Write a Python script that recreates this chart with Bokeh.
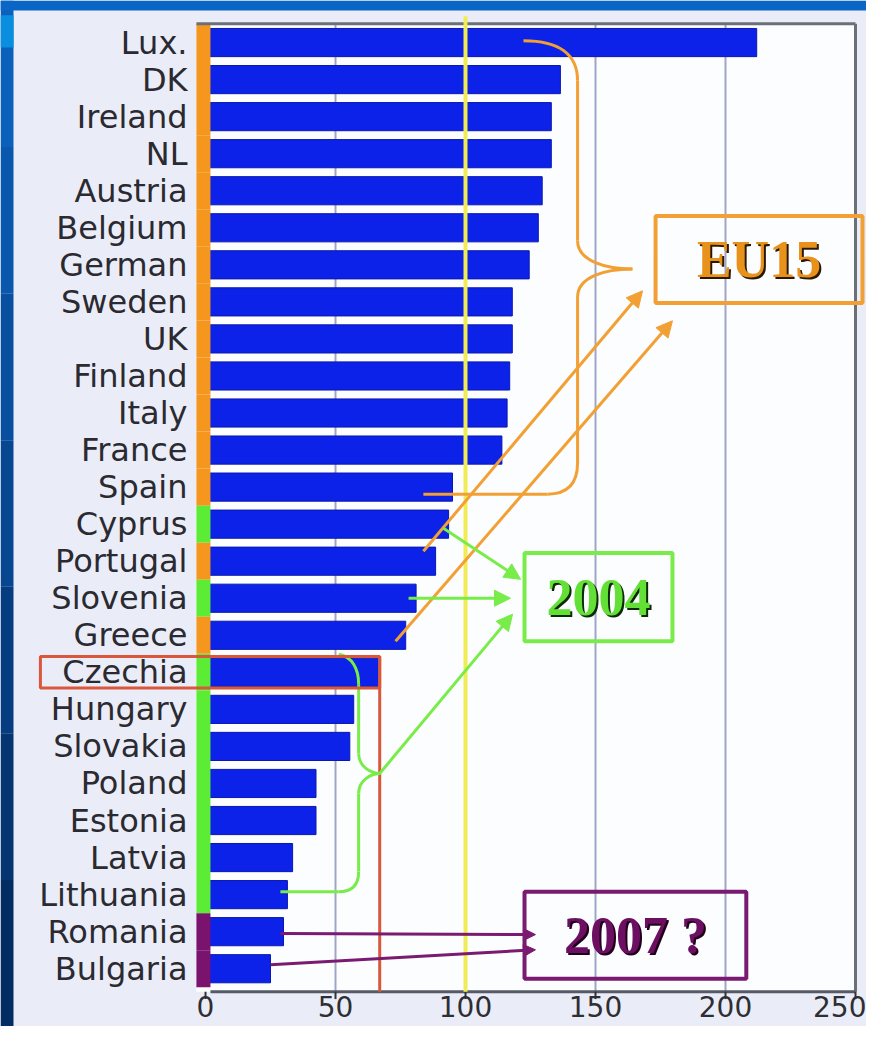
from bokeh.plotting import figure
from bokeh.models import (Range1d, FixedTicker, BoxAnnotation, Label, Arrow,
                          NormalHead, ColumnDataSource)
from bokeh.embed import file_html
from bokeh.resources import INLINE

# ---------------- data ----------------
countries = ["Lux.", "DK", "Ireland", "NL", "Austria", "Belgium", "German", "Sweden",
             "UK", "Finland", "Italy", "France", "Spain", "Cyprus", "Portugal",
             "Slovenia", "Greece", "Czechia", "Hungary", "Slovakia", "Poland",
             "Estonia", "Latvia", "Lithuania", "Romania", "Bulgaria"]
values = [212, 136.5, 133, 133, 129.5, 128, 124.5, 118, 118, 117, 116, 114, 95,
          93.5, 88.5, 81, 77, 67, 57, 55.5, 42.5, 42.5, 33.5, 31.5, 30, 25]
groups = (["EU15"] * 13 + ["2004", "EU15", "2004", "EU15"] + ["2004"] * 7
          + ["2007"] * 2)
x_ticks = [0, 50, 100, 150, 200, 250]
reference_level = 100

group_colors = {"EU15": "#f5961e", "2004": "#5cec36", "2007": "#7a136e"}
rows = list(range(len(countries)))

src = ColumnDataSource(dict(
    y=rows, v=values, name=countries,
    color=[group_colors[g] for g in groups],
))

# plotting window: the frame fills the whole canvas
X0, X1 = -78.85, 254.23           # canvas left / right edge in data units
Y_TOP, Y_END = -1.135, 26.56      # canvas top / bottom in data units
Y_AX = 25.62                      # position of the value axis line
BOX_L, BOX_R, BOX_T = -3.5, 250, -0.51   # chart box (white panel)

W, H = 866, 1026
p = figure(width=W, height=H,
           x_range=Range1d(X0, X1), y_range=Range1d(Y_END, Y_TOP),
           output_backend="svg", toolbar_location=None,
           min_border_left=0, min_border_right=0,
           min_border_top=0, min_border_bottom=0)
lav = "#eaedf8"
p.border_fill_color = lav
p.background_fill_color = lav
p.outline_line_color = None

# x axis: labels pulled up under the drawn axis line
p.xaxis.ticker = FixedTicker(ticks=x_ticks)
p.xaxis.axis_line_color = None
p.xaxis.major_tick_line_color = None
p.xaxis.major_tick_out = 0
p.xaxis.major_tick_in = 0
p.xaxis.minor_tick_line_color = None
p.xaxis.major_label_text_font = "DejaVu Sans"
p.xaxis.major_label_text_font_size = "28px"
p.xaxis.major_label_text_color = "#2e2e33"
p.xaxis.major_label_standoff = -31

# y axis (country names), labels pulled into the canvas
p.yaxis.ticker = FixedTicker(ticks=rows)
p.yaxis.major_label_overrides = {i: c for i, c in zip(rows, countries)}
p.yaxis.axis_line_color = None
p.yaxis.major_tick_line_color = None
p.yaxis.minor_tick_line_color = None
p.yaxis.major_tick_out = 0
p.yaxis.major_tick_in = 0
p.yaxis.major_label_text_font = "DejaVu Sans"
p.yaxis.major_label_text_font_size = "32px"
p.yaxis.major_label_text_color = "#2a2a30"
p.yaxis.major_label_standoff = -187

p.xgrid.visible = False
p.ygrid.visible = False

# slide frame (blue) --------------------------------------------------------
band_cols = ["#0b60bb", "#0a58ae", "#084fa0", "#074690", "#053d80", "#043572",
             "#032d62"]
n = len(band_cols)
p.quad(left=[X0] * n, right=[X0 + 5] * n,
       top=[Y_TOP + (Y_END - Y_TOP) * k / n for k in range(n)],
       bottom=[Y_TOP + (Y_END - Y_TOP) * (k + 1) / n for k in range(n)],
       fill_color=band_cols, line_color=None)
p.quad(left=[X0], right=[X1], top=[Y_TOP], bottom=[Y_TOP + 0.27],
       fill_color="#0a66c6", line_color=None)
p.quad(left=[X0], right=[X0 + 5], top=[Y_TOP + 0.4], bottom=[Y_TOP + 1.27],
       fill_color="#0a8ee0", line_color=None)

# chart panel ----------------------------------------------------------------
p.quad(left=[BOX_L], right=[BOX_R], top=[BOX_T], bottom=[Y_AX],
       fill_color="#fcfdff", line_color=None)
grid_x = [t for t in x_ticks if 0 < t < 250]
p.segment(x0=grid_x, y0=[BOX_T] * len(grid_x), x1=grid_x, y1=[Y_AX] * len(grid_x),
          line_color="#9ea6c8", line_width=2)

# ---------------- bars ----------------
p.hbar(y="y", left=0, right="v", height=0.76, source=src,
       fill_color="#0c22e8", line_color="#0a18b0", line_width=1)
# group strip along the axis
p.hbar(y="y", left=BOX_L, right=1.9, height=1.0, source=src,
       fill_color="color", line_color=None)

# frame lines, axis line and ticks
p.segment(x0=[BOX_L, BOX_R], y0=[BOX_T, BOX_T], x1=[BOX_R, BOX_R], y1=[BOX_T, Y_AX],
          line_color="#6b6f78", line_width=3)
p.segment(x0=[1.9], y0=[Y_AX], x1=[BOX_R], y1=[Y_AX], line_color="#555a64",
          line_width=3)
p.segment(x0=x_ticks, y0=[Y_AX] * len(x_ticks), x1=x_ticks,
          y1=[Y_AX + 0.2] * len(x_ticks), line_color="#333333", line_width=2)

# reference line at 100
p.segment(x0=[reference_level], y0=[BOX_T - 0.2], x1=[reference_level], y1=[Y_AX],
          line_color="#f0ec55", line_width=4)

# Czechia highlight
ci = countries.index("Czechia")
cz = values[ci]
red = "#d9573a"
p.segment(x0=[cz], y0=[ci - 0.43], x1=[cz], y1=[Y_AX], line_color=red, line_width=3)
p.add_layout(BoxAnnotation(left=-63.5, right=cz, top=ci - 0.43, bottom=ci + 0.42,
                           fill_alpha=0, line_color=red, line_alpha=1, line_width=3))

# ---------------- annotations ----------------
orange = "#f2a034"
green = "#78ec48"
purple = "#7a1a70"

# orange brace (EU15)
p.bezier(x0=[122.3, 143.1, 164.2, 143.1],
         y0=[-0.05, 5.35, 6.11, 11.35],
         x1=[143.1, 164.2, 143.1, 131.5],
         y1=[1.03, 6.11, 6.87, 12.19],
         cx0=[136.5, 143.1, 153.8, 143.1],
         cy0=[-0.05, 5.89, 6.11, 11.97],
         cx1=[143.1, 153.8, 143.1, 138.5],
         cy1=[0.35, 6.11, 6.32, 12.19],
         line_color=orange, line_width=3)
p.segment(x0=[143.1, 143.1, 131.5], y0=[1.03, 6.87, 12.19],
          x1=[143.1, 143.1, 83.8], y1=[5.35, 11.35, 12.19],
          line_color=orange, line_width=3)

# green brace (new members 2004)
p.bezier(x0=[51.2, 58.9, 67.3, 58.9],
         y0=[16.51, 19.19, 19.73, 22.38],
         x1=[58.9, 67.3, 58.9, 51.2],
         y1=[17.32, 19.73, 20.27, 22.92],
         cx0=[56.5, 58.9, 63.5, 58.9],
         cy0=[16.57, 19.54, 19.73, 22.78],
         cx1=[58.9, 63.5, 58.9, 55.8],
         cy1=[16.92, 19.73, 19.92, 22.92],
         line_color=green, line_width=3)
p.segment(x0=[58.9, 58.9, 51.2], y0=[17.32, 20.27, 22.92],
          x1=[58.9, 58.9, 28.8], y1=[19.19, 22.38, 22.92],
          line_color=green, line_width=3)


def arrow(xs, ys, xe, ye, color, size=16):
    p.add_layout(Arrow(end=NormalHead(size=size, fill_color=color, line_color=color),
                       x_start=xs, y_start=ys, x_end=xe, y_end=ye,
                       line_color=color, line_width=3))


arrow(83.8, 13.73, 168.1, 6.70, orange)
arrow(73.1, 16.16, 179.6, 7.51, orange)
arrow(91.5, 13.11, 121.2, 14.49, green)
arrow(78.1, 15.0, 117.3, 15.0, green)
arrow(67.0, 19.73, 118.1, 15.43, green)
arrow(28.8, 24.05, 126.9, 24.08, purple, 12)
arrow(25.0, 24.89, 126.9, 24.49, purple, 12)


def tag(left, right, top, bottom, text, color, fill, shadow):
    p.add_layout(BoxAnnotation(left=left, right=right, top=top, bottom=bottom,
                               fill_alpha=0, line_color=color, line_alpha=1,
                               line_width=4))
    xc = (left + right) / 2
    yc = (top + bottom) / 2
    for dx, dy, c in [(2, -2, shadow), (0, 0, fill)]:
        p.add_layout(Label(x=xc, y=yc, x_offset=dx, y_offset=dy, text=text,
                           text_font="Liberation Serif", text_font_style="bold",
                           text_font_size="52px", text_color=c,
                           text_align="center", text_baseline="middle"))


tag(173.1, 252.7, 4.68, 7.03, "EU15", orange, "#e8921c", "#2a1804")
tag(122.7, 179.6, 13.78, 16.16, "2004", green, "#62e036", "#0c2a06")
tag(122.7, 208.0, 22.92, 25.27, "2007 ?", purple, "#6c0e62", "#22001c")

open("out.html", "w").write(file_html(p, INLINE))
